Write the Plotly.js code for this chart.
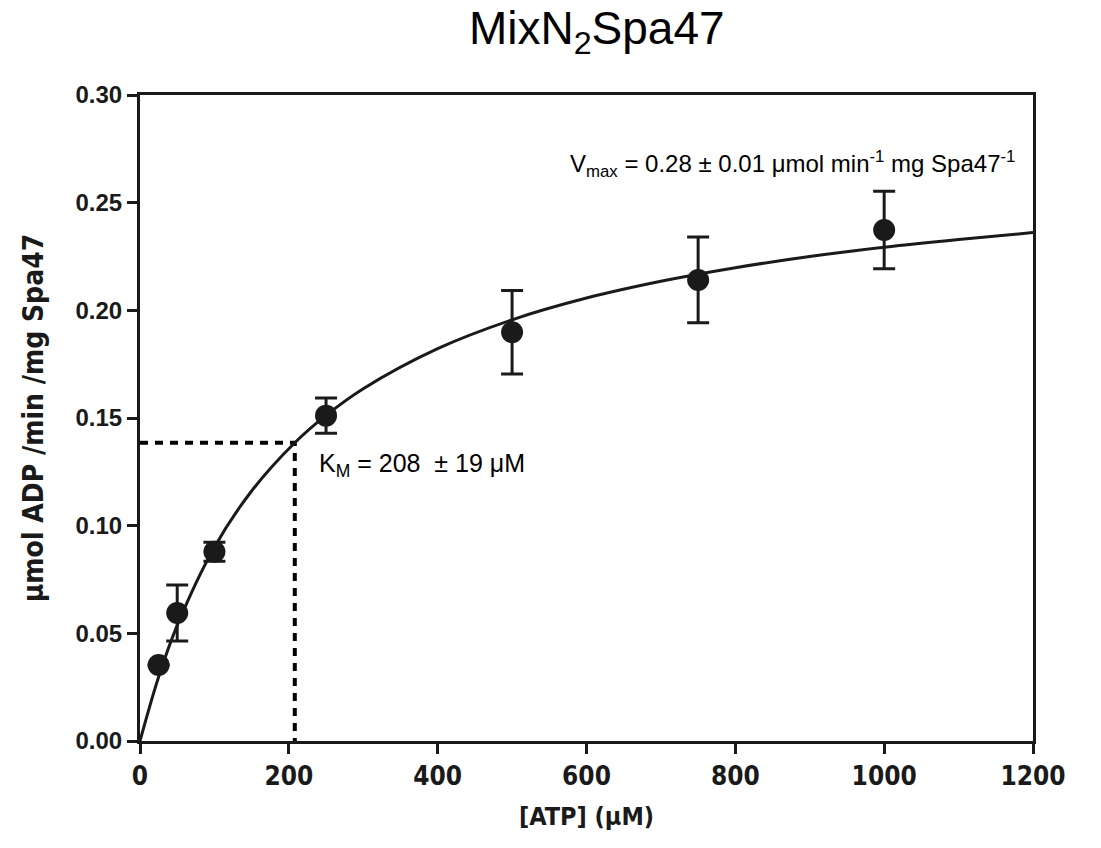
<!DOCTYPE html>
<html>
<head>
<meta charset="utf-8">
<script src="https://cdn.plot.ly/plotly-3.0.1.min.js"></script>
<style>html,body{margin:0;padding:0;background:#fff;}#chart{width:1101px;height:848px;}</style>
</head>
<body>
<div id="chart"></div>
<script>
// Measured data points
const atpConc = [25, 50, 100, 250, 500, 750, 1000];
const rate = [0.0353, 0.0594, 0.0879, 0.1511, 0.1898, 0.2141, 0.2373];
const rateErr = [0.000, 0.013, 0.0044, 0.0082, 0.0194, 0.0199, 0.018];

// Fitted curve
const fitX = [0, 25, 50, 100, 150, 208, 250, 300, 400, 500, 600, 700, 800, 900, 1000, 1100, 1200];
const fitY = [0, 0.0297, 0.0537, 0.0900, 0.1161, 0.1385, 0.1512, 0.1636, 0.1822, 0.1956, 0.2057, 0.2135, 0.2198, 0.2250, 0.2293, 0.2329, 0.2361];

// Km guide lines
const kmX = [0, 208, 208];
const kmY = [0.1385, 0.1385, 0];

const xTicks = [0, 200, 400, 600, 800, 1000, 1200];
const yTicks = [0.00, 0.05, 0.10, 0.15, 0.20, 0.25, 0.30];
const yTickText = ['0.00', '0.05', '0.10', '0.15', '0.20', '0.25', '0.30'];

const ink = '#1a1a1a';
const condensed = 'DejaVu Sans Condensed, Liberation Sans Narrow, Arial Narrow, sans-serif';
const arial = 'Liberation Sans, Arial, Helvetica, sans-serif';

const traces = [
  {x: kmX, y: kmY, mode: 'lines', line: {color: '#000', width: 4, dash: '8px,7px'}, hoverinfo: 'skip', showlegend: false},
  {x: fitX, y: fitY, mode: 'lines', line: {color: ink, width: 3, shape: 'spline', smoothing: 1.0}, showlegend: false},
  {x: atpConc, y: rate, mode: 'markers', marker: {color: ink, size: 22, symbol: 'circle'},
   error_y: {type: 'data', array: rateErr, visible: true, color: ink, thickness: 3, width: 11}, showlegend: false}
];

const layout = {
  width: 1101, height: 848,
  margin: {l: 140, r: 68, t: 95, b: 107},
  paper_bgcolor: '#fff', plot_bgcolor: '#fff',
  showlegend: false,
  title: {text: 'MixN<sub>2</sub>Spa47', x: 0.542, xanchor: 'center', y: 0.948, yanchor: 'bottom',
          font: {family: arial, size: 46, color: '#000'}},
  xaxis: {
    range: [0, 1200], tickvals: xTicks, ticktext: xTicks.map(String),
    showgrid: false, zeroline: false, showline: true, linecolor: ink, linewidth: 3, mirror: true,
    ticks: 'outside', ticklen: 10, tickwidth: 3, tickcolor: ink,
    tickfont: {family: condensed, size: 26, color: ink, weight: 'bold'},
    title: {text: '[ATP] (μM)', standoff: 18,
            font: {family: condensed, size: 25, color: ink, weight: 'bold'}}
  },
  yaxis: {
    range: [0, 0.30], tickvals: yTicks, ticktext: yTickText,
    showgrid: false, zeroline: false, showline: true, linecolor: ink, linewidth: 3, mirror: true,
    ticks: 'outside', ticklen: 10, tickwidth: 3, tickcolor: ink,
    tickfont: {family: arial, size: 24, color: ink, weight: 'bold'},
    title: {text: 'μmol ADP /min /mg Spa47', standoff: 24,
            font: {family: condensed, size: 28, color: ink, weight: 'bold'}}
  },
  annotations: [
    {x: 1178, y: 0.268, xref: 'x', yref: 'y', xanchor: 'right', yanchor: 'middle', showarrow: false,
     text: 'V<sub>max</sub> = 0.28 ± 0.01 μmol min<sup>-1</sup> mg Spa47<sup>-1</sup>',
     font: {family: arial, size: 24, color: '#000'}},
    {x: 238, y: 0.128, xref: 'x', yref: 'y', xanchor: 'left', yanchor: 'middle', showarrow: false,
     text: 'K<sub>M</sub> = 208  ± 19 μM',
     font: {family: arial, size: 25, color: '#000'}}
  ]
};

Plotly.newPlot('chart', traces, layout, {displayModeBar: false, staticPlot: true});
</script>
</body>
</html>
